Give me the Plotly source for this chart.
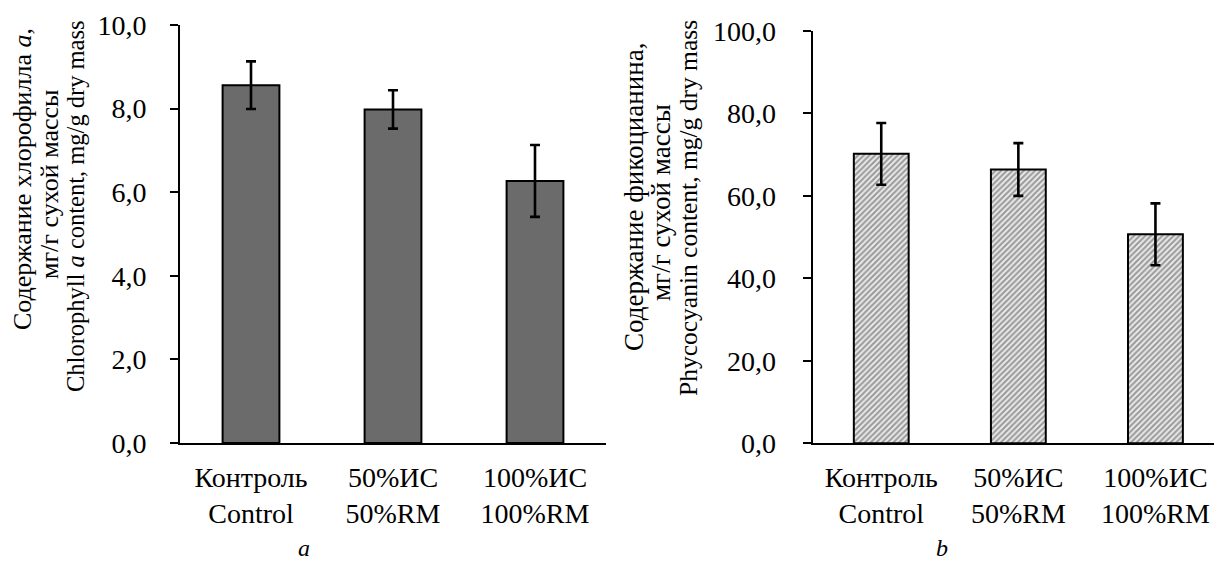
import plotly.graph_objects as go

categories = ["Контроль<br>Control", "50%ИС<br>50%RM", "100%ИС<br>100%RM"]
chl_values = [8.56, 7.98, 6.27]
chl_errors = [0.57, 0.46, 0.86]
phyc_values = [70.2, 66.4, 50.7]
phyc_errors = [7.5, 6.4, 7.5]

left_title_lines = ["Содержание хлорофилла <i>a</i>,", "мг/г сухой массы",
                    "Chlorophyll <i>a</i> content, mg/g dry mass"]
right_title_lines = ["Содержание фикоцианина,", "мг/г сухой массы",
                     "Phycocyanin content, mg/g dry mass"]
panel_labels = ["a", "b"]

W, H = 1222, 565
OFF = 8  # default page body margin
FONT = "Liberation Serif, Times New Roman, serif"


def fx(px):
    return (px - OFF) / W


def fy(py):
    return 1 - (py - OFF) / H


fig = go.Figure()
fig.add_trace(go.Bar(
    x=categories, y=chl_values, width=0.4,
    marker=dict(color="#6b6b6b", line=dict(color="black", width=2)),
    error_y=dict(type="data", array=chl_errors, color="black", thickness=2.6, width=5),
    xaxis="x", yaxis="y", showlegend=False))
fig.add_trace(go.Bar(
    x=categories, y=phyc_values, width=0.4,
    marker=dict(color="white", line=dict(color="black", width=2),
                pattern=dict(shape="/", fgcolor="#4a4a4a", bgcolor="#f0f0f0", size=4, solidity=0.55)),
    error_y=dict(type="data", array=phyc_errors, color="black", thickness=2.6, width=5),
    xaxis="x2", yaxis="y2", showlegend=False))

axis_font = dict(family=FONT, size=28, color="black")
common_x = dict(type="category", showline=True, linecolor="black", linewidth=2, ticks="",
                tickfont=axis_font, showgrid=False, zeroline=False, range=[-0.5, 2.5],
                ticklabelstandoff=8, automargin=False)
common_y = dict(showline=True, linecolor="black", linewidth=2, ticks="outside", ticklen=8,
                tickwidth=2, tickcolor="black", tickfont=axis_font, showgrid=False,
                zeroline=False, tickformat=".1f", automargin=False)

fig.update_layout(
    width=W, height=H, margin=dict(l=0, r=0, t=0, b=0, pad=0),
    paper_bgcolor="white", plot_bgcolor="white",
    separators=", ",
    font=dict(family=FONT, color="black"),
    xaxis=dict(domain=[fx(180), fx(606)], anchor="y", **common_x),
    yaxis=dict(domain=[fy(443), fy(25)], anchor="x", range=[0, 10], dtick=2,
               ticklabelstandoff=18, **common_y),
    xaxis2=dict(domain=[fx(812.7), fx(1224)], anchor="y2", **common_x),
    yaxis2=dict(domain=[fy(443.3), fy(31)], anchor="x2", range=[0, 100], dtick=20,
                ticklabelstandoff=21, **common_y),
)


def add_title(lines, xs, ys, sizes):
    for t, x, y, s in zip(lines, xs, ys, sizes):
        fig.add_annotation(text=t, xref="paper", yref="paper", x=fx(x), y=fy(y),
                           xanchor="center", yanchor="middle", textangle=-90, showarrow=False,
                           font=dict(family=FONT, size=s, color="black"))


add_title(left_title_lines, [22, 49, 76], [179, 184, 206], [26, 26, 24.5])
add_title(right_title_lines, [634, 661, 688], [197, 203, 208], [27, 27, 25.5])

for lbl, x in zip(panel_labels, [304, 942]):
    fig.add_annotation(text="<i>%s</i>" % lbl, xref="paper", yref="paper", x=fx(x), y=fy(548),
                       xanchor="center", yanchor="middle", showarrow=False,
                       font=dict(family=FONT, size=24, color="black"))

fig.write_html("out.html")
